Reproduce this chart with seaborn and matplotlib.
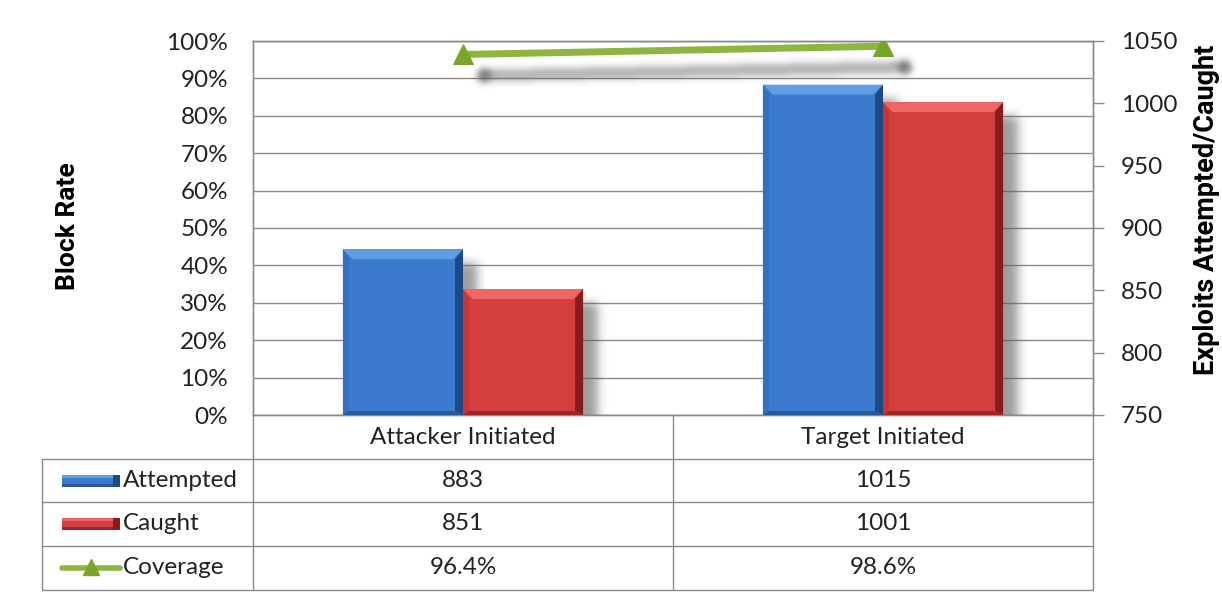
import numpy as np
import pandas as pd
import matplotlib
matplotlib.use("Agg")
import matplotlib.pyplot as plt
from matplotlib.patches import Polygon, Rectangle
import seaborn as sns

# ---- data -------------------------------------------------------------
categories = ["Attacker Initiated", "Target Initiated"]
series_names = ["Attempted", "Caught"]
attempted = [883, 1015]
caught = [851, 1001]
coverage = [0.964, 0.986]
pct_ticks = [0.0, 0.1, 0.2, 0.3, 0.4, 0.5, 0.6, 0.7, 0.8, 0.9, 1.0]
count_ticks = [750, 800, 850, 900, 950, 1000, 1050]

# ---- style ------------------------------------------------------------
BLUE = {"face": "#3b7bcd", "top": "#629ee3", "left": "#3470be",
        "right": "#1d4a85", "bottom": "#295797"}
RED = {"face": "#d33e3e", "top": "#ee6767", "left": "#c53636",
       "right": "#861c1c", "bottom": "#9e2626"}
GREEN = "#8db53f"
GREEN_MARK = "#78a62a"
GRID = "#8a8a8a"
TEXT = "#222222"
FS = 17.5

sns.set_theme(style="white")
plt.rcParams["font.family"] = ["Lato", "DejaVu Sans"]

W, H = 1222, 597
fig = plt.figure(figsize=(W / 100, H / 100), dpi=100)
fig.patch.set_facecolor("white")

ax = fig.add_axes([253 / W, 1 - 415 / H, 840 / W, 374 / H])
ax2 = ax.twinx()

# coverage line on the percentage axis
x_pos = np.arange(len(categories))
sns.lineplot(x=x_pos, y=coverage, ax=ax, color=GREEN, linewidth=5,
             marker="^", markersize=14, markerfacecolor=GREEN_MARK,
             markeredgecolor=GREEN_MARK, zorder=5)

# bars on the count axis
df = pd.DataFrame({
    "category": categories * 2,
    "series": [series_names[0]] * len(categories) + [series_names[1]] * len(categories),
    "value": attempted + caught,
})
sns.barplot(data=df, x="category", y="value", hue="series",
            palette=[BLUE["face"], RED["face"]], width=0.572, saturation=1,
            legend=False, ax=ax2, linewidth=0, zorder=2)

ax.set_xlim(-0.5, len(categories) - 0.5)
ax.set_ylim(0, 1)
ax2.set_ylim(count_ticks[0], count_ticks[-1])

ax.set_yticks(pct_ticks)
ax.set_yticklabels([f"{int(round(t * 100))}%" for t in pct_ticks])
ax.yaxis.grid(True, color=GRID, linewidth=1)
ax.set_axisbelow(True)
ax.tick_params(axis="y", length=0, pad=18, labelsize=FS, labelcolor=TEXT)
ax.set_xticks([])
ax.set_xlabel("")
ax.set_ylabel("")

ax2.set_yticks(count_ticks)
ax2.tick_params(axis="y", right=True, length=8, width=1, color=GRID,
                direction="out", pad=12, labelsize=FS, labelcolor=TEXT)
ax2.set_xticks([])
ax2.set_xlabel("")
ax2.set_ylabel("")
ax2.patch.set_visible(False)

for a in (ax, ax2):
    for s in a.spines.values():
        s.set_color(GRID)
        s.set_linewidth(1)

TITLE_FONT = ["Roboto", "DejaVu Sans"]
fig.text(68 / W, 1 - 226 / H, "Block Rate", rotation=90, ha="center",
         va="center", fontsize=19, fontweight="bold", color="black",
         family=TITLE_FONT)
fig.text(1207 / W, 1 - 210 / H, "Exploits Attempted/Caught", rotation=90,
         ha="center", va="center", fontsize=19.5, fontweight="bold",
         color="black", family=TITLE_FONT)

fig.canvas.draw()

# ---- soft drop shadows (bars and coverage line) -------------------------
T2 = ax2.transData
T1 = ax.transData
bb = ax2.get_window_extent()
pad = 40
nx = int(round(bb.width)) + 2 * pad
ny = int(round(bb.height)) + 2 * pad
X = bb.x0 - pad + np.arange(nx)[None, :] + 0.5
Y = bb.y1 + pad - np.arange(ny)[:, None] - 0.5

bars = [p for p in ax2.patches if isinstance(p, Rectangle)]
bar_mask = np.zeros((ny, nx))
sdx, sdy = 14, 14
for p in bars:
    x0d, x1d = p.get_x(), p.get_x() + p.get_width()
    (px0, py0) = T2.transform((x0d, count_ticks[0]))
    (px1, py1) = T2.transform((x1d, p.get_height()))
    inside = ((X >= px0 + sdx) & (X <= px1 + sdx) &
              (Y <= py1 - sdy) & (Y >= py0 - sdy - 80))
    bar_mask[inside] = 1.0


def gauss_blur(a, sigma):
    r = int(3 * sigma)
    k = np.exp(-0.5 * (np.arange(-r, r + 1) / sigma) ** 2)
    k /= k.sum()
    a = np.apply_along_axis(lambda v: np.convolve(v, k, mode="same"), 1, a)
    a = np.apply_along_axis(lambda v: np.convolve(v, k, mode="same"), 0, a)
    return a


bar_mask = gauss_blur(bar_mask, 5)

pts = T1.transform(np.column_stack([x_pos, coverage]))
ldx, ldy = 21, 21
a_pt = pts[0] + np.array([ldx, -ldy])
b_pt = pts[-1] + np.array([ldx, -ldy])
seg = b_pt - a_pt
t = ((X - a_pt[0]) * seg[0] + (Y - a_pt[1]) * seg[1]) / (seg @ seg)
t = np.clip(t, 0, 1)
dist = np.hypot(X - (a_pt[0] + t * seg[0]), Y - (a_pt[1] + t * seg[1]))
line_mask = (dist <= 6).astype(float) * 0.55
for q in (a_pt, b_pt):
    line_mask[np.hypot(X - q[0], Y - q[1]) <= 7] = 1.0
line_mask = gauss_blur(line_mask, 3.5)

alpha = np.maximum(bar_mask * 0.6, line_mask * 0.85)
alpha = alpha[pad:-pad, pad:-pad]
rgba = np.zeros(alpha.shape + (4,))
rgba[..., :3] = 0.36
rgba[..., 3] = np.clip(alpha, 0, 1)
xl = ax2.get_xlim()
yl = ax2.get_ylim()
ax2.imshow(rgba, extent=(xl[0], xl[1], yl[0], yl[1]), origin="upper",
           aspect="auto", interpolation="bilinear", zorder=1)
ax2.set_xlim(xl)
ax2.set_ylim(yl)

# ---- bevelled bar faces ---------------------------------------------
inv2 = T2.inverted()
bev = 10
for i, p in enumerate(bars):
    pal = BLUE if p.get_facecolor()[2] > p.get_facecolor()[0] else RED
    x0d, x1d = p.get_x(), p.get_x() + p.get_width()
    (px0, py0) = T2.transform((x0d, count_ticks[0]))
    (px1, py1) = T2.transform((x1d, p.get_height()))
    polys = {
        "top": [(px0, py1), (px1, py1), (px1 - bev, py1 - bev), (px0 + bev, py1 - bev)],
        "left": [(px0, py1), (px0 + bev * 0.6, py1 - bev), (px0 + bev * 0.6, py0 + 4), (px0, py0)],
        "right": [(px1, py1), (px1, py0), (px1 - bev * 0.8, py0 + 4), (px1 - bev * 0.8, py1 - bev)],
        "bottom": [(px0, py0), (px0 + bev * 0.6, py0 + 4), (px1 - bev * 0.8, py0 + 4), (px1, py0)],
    }
    for key, poly in polys.items():
        ax2.add_patch(Polygon(inv2.transform(np.array(poly)), closed=True,
                              facecolor=pal[key], edgecolor="none", zorder=3))

# ---- data table below the plot ---------------------------------------
tab = fig.add_axes([0, 0, 1, 1])
tab.set_xlim(0, W)
tab.set_ylim(H, 0)
tab.axis("off")
tab.patch.set_visible(False)

edges_px = [T1.transform((e, 0))[0] for e in np.arange(len(categories) + 1) - 0.5]
centers_px = [T1.transform((c, 0))[0] for c in x_pos]
left_x = 42
row_y = [415, 459, 502, 546, 590]

for y in row_y[1:]:
    tab.plot([left_x, edges_px[-1]], [y, y], color=GRID, lw=1)
tab.plot([left_x, left_x], [row_y[1], row_y[-1]], color=GRID, lw=1)
for e in edges_px:
    tab.plot([e, e], [row_y[0], row_y[-1]], color=GRID, lw=1)

row_mid = [(row_y[k] + row_y[k + 1]) / 2 for k in range(len(row_y) - 1)]
for c, name in zip(centers_px, categories):
    tab.text(c, row_mid[0], name, ha="center", va="center", fontsize=FS, color=TEXT)

rows = [
    (series_names[0], [str(v) for v in attempted]),
    (series_names[1], [str(v) for v in caught]),
    ("Coverage", [f"{v * 100:.1f}%" for v in coverage]),
]
for k, (label, vals) in enumerate(rows):
    ym = row_mid[k + 1]
    tab.text(123, ym, label, ha="left", va="center", fontsize=FS, color=TEXT)
    for c, v in zip(centers_px, vals):
        tab.text(c, ym, v, ha="center", va="center", fontsize=FS, color=TEXT)

# legend keys inside the table
for k, pal in enumerate([BLUE, RED]):
    ym = row_mid[k + 1]
    tab.add_patch(Rectangle((62, ym - 6), 58, 12, facecolor=pal["face"],
                            edgecolor="none"))
    tab.add_patch(Rectangle((62, ym - 6), 58, 3, facecolor=pal["top"],
                            edgecolor="none"))
    tab.add_patch(Rectangle((62, ym + 3), 58, 3, facecolor=pal["bottom"],
                            edgecolor="none"))
    tab.add_patch(Polygon([(113, ym - 6), (120, ym - 6), (120, ym + 6), (113, ym + 6)],
                          facecolor=pal["right"], edgecolor="none"))
ym = row_mid[3]
tab.plot([62, 120], [ym, ym], color=GREEN, lw=4)
tab.plot([91], [ym - 1], marker="^", markersize=11, color=GREEN_MARK,
         markeredgecolor=GREEN_MARK)

fig.savefig("out.png", dpi=100, facecolor="white")
